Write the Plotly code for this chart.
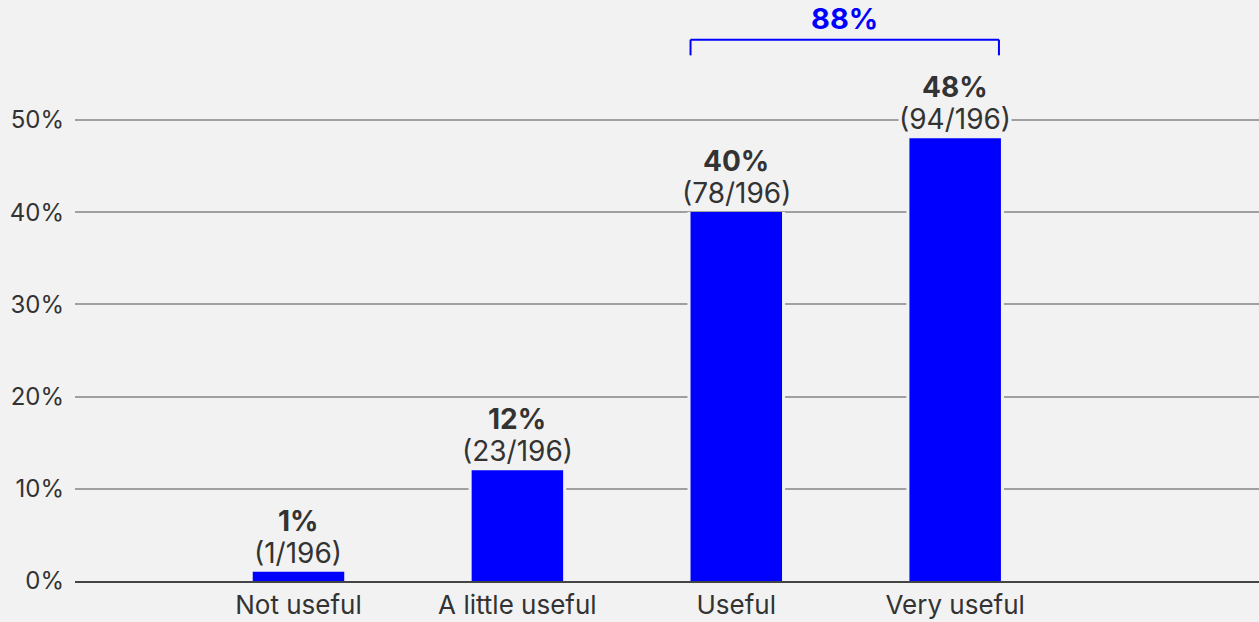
import plotly.graph_objects as go

# Survey results: how useful respondents found it
categories = ["Not useful", "A little useful", "Useful", "Very useful"]
percent = [1, 12, 40, 48]
counts = [1, 23, 78, 94]
total = 196
combined_label = "88%"
y_ticks = [0, 10, 20, 30, 40, 50]
y_tick_text = ["0%", "10%", "20%", "30%", "40%", "50%"]

BG = "#f2f2f2"
BLUE = "#0000ff"
TEXT = "#333333"
FONT = "Inter"

fig = go.Figure()

# Background-coloured halo behind each bar so gridlines stop short of the bars
fig.add_trace(go.Bar(
    x=categories, y=percent, width=0.446,
    marker=dict(color=BG, line=dict(width=0)),
    hoverinfo="skip", showlegend=False,
))
fig.add_trace(go.Bar(
    x=categories, y=percent, width=0.418,
    marker=dict(color=BLUE, line=dict(width=0)),
    hoverinfo="skip", showlegend=False,
))

# Value labels above each bar: share in bold, raw count underneath
for cat, p, c in zip(categories, percent, counts):
    fig.add_annotation(
        x=cat, y=p, xref="x", yref="y",
        text=f"({c}/{total})",
        showarrow=False, yanchor="middle", yshift=19,
        font=dict(family=FONT, size=28, color=TEXT),
        bgcolor=BG, borderpad=0,
    )
    fig.add_annotation(
        x=cat, y=p, xref="x", yref="y",
        text=f"<b>{p}%</b>",
        showarrow=False, yanchor="middle", yshift=51,
        font=dict(family=FONT, size=28, color=TEXT),
    )

# Bracket grouping the two positive answers
left = 2 - 0.209
right = 3 + 0.2
fig.add_shape(type="line", xref="x", yref="y", x0=left, x1=right, y0=58.7, y1=58.7,
              line=dict(color=BLUE, width=2))
fig.add_shape(type="line", xref="x", yref="y", x0=left, x1=left, y0=58.7, y1=57.0,
              line=dict(color=BLUE, width=2))
fig.add_shape(type="line", xref="x", yref="y", x0=right, x1=right, y0=58.7, y1=57.0,
              line=dict(color=BLUE, width=2))
fig.add_annotation(
    x=(left + right) / 2, y=58.7, xref="x", yref="y",
    text=f"<b>{combined_label}</b>", showarrow=False, yanchor="middle", yshift=21,
    font=dict(family=FONT, size=29, color=BLUE),
)

fig.update_layout(
    width=1259, height=622,
    margin=dict(l=75, r=0, t=0, b=41),
    paper_bgcolor=BG, plot_bgcolor=BG,
    barmode="overlay", showlegend=False,
    font=dict(family=FONT, color=TEXT),
    xaxis=dict(
        type="category", range=[-1.021, 4.388],
        showgrid=False, zeroline=False,
        showline=True, linecolor="#444444", linewidth=2,
        ticks="", tickfont=dict(family=FONT, size=26, color=TEXT),
    ),
    yaxis=dict(
        range=[0, 63], tickvals=y_ticks, ticktext=y_tick_text,
        showgrid=True, gridcolor="#a0a0a0", gridwidth=2,
        zeroline=False, showline=False, ticks="",
        ticklabelstandoff=10,
        tickfont=dict(family=FONT, size=24, color=TEXT),
    ),
)

fig.write_html("out.html")
